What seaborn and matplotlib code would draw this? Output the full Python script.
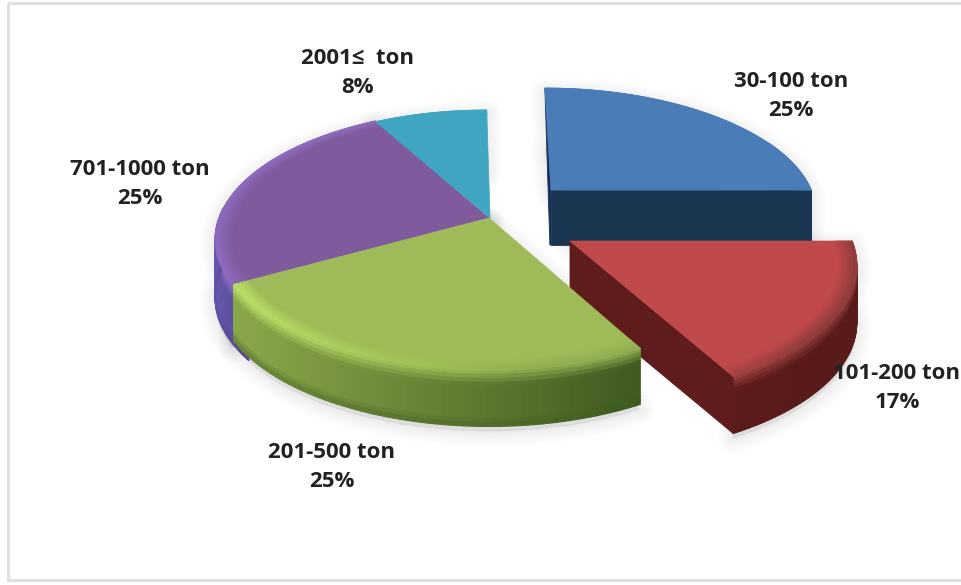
import numpy as np
import matplotlib
matplotlib.use("Agg")
import matplotlib.pyplot as plt
from matplotlib.collections import PolyCollection
from matplotlib.colors import to_rgb
from matplotlib.patches import Rectangle
import seaborn as sns

# Tonnage classes and their shares (percent)
categories = ["30-100 ton", "101-200 ton", "201-500 ton", "701-1000 ton", "2001≤  ton"]
shares = [25, 17, 25, 25, 8]

# Face colours of each slice
top_colors = ["#4a7db8", "#c04a4b", "#9fba58", "#7f5b9e", "#3fa5c0"]
wall_left = ["#1b3450", "#5c1b1c", "#8aa849", "#6557ad", "#2c7488"]
wall_right = ["#1b3450", "#581a1b", "#3f5a20", "#54478f", "#2c7488"]
rim_left = ["#4a7db8", "#a04242", "#bce468", "#8f6cc0", "#3fa5c0"]
rim_right = ["#4a7db8", "#8c3a3a", "#8fae50", "#8f6cc0", "#3fa5c0"]
cut_colors = ["#1a3550", "#5e1c1d", "#3f5a20", "#54478f", "#2c7488"]

# Pixel layout of each exploded slice: apex, radii, extrusion, lean of the back edge
apex_x = [551, 570, 489, 489, 490]
apex_y = [190, 241, 218, 218, 218]
radius_x = [260, 282, 268, 270, 265]
radius_y = [119, 132, 127, 127, 126]
depth = [55, 57, 56, 58, 58]
lean = [0.06, 0.03, 0.0, 0.0, 0.03]
PERSPECTIVE = 1 / 6

sns.set_theme(style="white")
plt.rcParams["font.family"] = ["Open Sans", "DejaVu Sans"]

fig = plt.figure(figsize=(9.62, 5.85), dpi=100, facecolor="white")
ax = fig.add_axes([0, 0, 1, 1])
ax.set_xlim(0, 962)
ax.set_ylim(585, 0)
ax.axis("off")

ax.add_patch(Rectangle((8, 3), 980, 577, fill=False, ec="#e0e0e0", lw=2.2, zorder=0))


def project(i, theta, r=1.0):
    """Map a polar position on the slice's disc to figure pixels."""
    u, v = r * np.cos(theta), r * np.sin(theta)
    w = 1 + PERSPECTIVE * v
    y_off = radius_y[i] * v / w
    x = apex_x[i] + radius_x[i] * u / w - lean[i] * y_off
    return x, apex_y[i] - y_off


# Angular span of every slice, clockwise from twelve o'clock
edges = np.radians(90 - np.cumsum([0] + shares) * 3.6)
span = {i: (edges[i], edges[i + 1]) for i in range(len(shares))}


def arc(i, n=80, r=1.0, start=None, stop=None):
    a = span[i][0] if start is None else start
    b = span[i][1] if stop is None else stop
    t = np.linspace(a, b, n)
    return np.column_stack(project(i, t, r))


def mix(a, b, f):
    a, b = np.array(to_rgb(a)), np.array(to_rgb(b))
    return tuple(a + (b - a) * f)


def top_polygon(i):
    return np.vstack([[apex_x[i], apex_y[i]], arc(i)])


def soft_shadow(i):
    pts = np.vstack([top_polygon(i), arc(i)[::-1] + [0, depth[i]]])
    for w in np.linspace(22, 2, 9):
        ax.fill(pts[:, 0], pts[:, 1] + 5, fc="#000000", ec="#000000", lw=w,
                alpha=0.006, joinstyle="round", zorder=1)


def cut_face(i, theta, z):
    x, y = project(i, theta)
    pts = [(apex_x[i], apex_y[i]), (x, y), (x, y + depth[i]),
           (apex_x[i], apex_y[i] + depth[i])]
    ax.fill(*zip(*pts), fc=cut_colors[i], ec=cut_colors[i], lw=0.6, zorder=z)


def curved_wall(i, z, start=None, stop=None, n=70, bands=14):
    """Outer wall as small quads shaded left to right and top to bottom."""
    pts = arc(i, n + 1, start=start, stop=stop)
    x0, x1 = pts[:, 0].min(), pts[:, 0].max()
    quads, colors = [], []
    for a, b in zip(pts[:-1], pts[1:]):
        f = ((a[0] + b[0]) / 2 - x0) / (x1 - x0)
        base = mix(wall_left[i], wall_right[i], f)
        rim = mix(rim_left[i], rim_right[i], min(1, f * 1.4))
        for s in range(bands):
            s0, s1 = s / bands, (s + 1) / bands
            g = min(1, (s0 + s1) / 2 / 0.26)
            c = mix(rim, base, g)
            # darkened lower lip of the wall
            c = mix(c, wall_right[i], max(0, (s0 - 0.8) / 0.2) * 0.6)
            d = depth[i]
            quads.append([a + [0, s0 * d], b + [0, s0 * d], b + [0, s1 * d], a + [0, s1 * d]])
            colors.append(c)
    ax.add_collection(PolyCollection(quads, facecolors=colors, edgecolors=colors,
                                     linewidths=0.9, zorder=z))


def top_face(i, z):
    pts = top_polygon(i)
    ax.fill(pts[:, 0], pts[:, 1], fc=top_colors[i], ec=top_colors[i], lw=0.5, zorder=z)
    # Bevel along the outer edge of the disc
    inner = arc(i, 71, 0.94)
    outer = arc(i, 71, 1.0)
    x0, x1 = outer[:, 0].min(), outer[:, 0].max()
    quads, colors = [], []
    for k in range(70):
        f = ((outer[k, 0] + outer[k + 1, 0]) / 2 - x0) / (x1 - x0)
        rim = mix(rim_left[i], rim_right[i], min(1, f * 1.4))
        for s in range(5):
            r0, r1 = s / 5, (s + 1) / 5
            quads.append([inner[k] + (outer[k] - inner[k]) * r0,
                          inner[k + 1] + (outer[k + 1] - inner[k + 1]) * r0,
                          inner[k + 1] + (outer[k + 1] - inner[k + 1]) * r1,
                          inner[k] + (outer[k] - inner[k]) * r1])
            colors.append(mix(top_colors[i], rim, (r0 + r1) / 2))
    ax.add_collection(PolyCollection(quads, facecolors=colors, edgecolors=colors,
                                     linewidths=0.5, zorder=z + 0.1))


BLUE, RED, GREEN, PURPLE, TEAL = range(5)

for i in range(5):
    soft_shadow(i)

# Painter's order: far slices first, the near green slice last.
# The purple wall starts a little under the green slice so no gap opens between them.
curved_wall(PURPLE, 2, start=span[PURPLE][0] + np.radians(8), stop=np.radians(-185))
top_face(PURPLE, 3)
top_face(TEAL, 3.5)

# Blue slice: front cut face plus a thin sliver of its leaning left cut face
curved_wall(BLUE, 4, start=np.radians(25))
cut_face(BLUE, span[BLUE][1], 4.2)
bx, by = project(BLUE, span[BLUE][0])
ax.fill([bx, bx + 5, apex_x[BLUE], apex_x[BLUE]],
        [by, apex_y[BLUE] + depth[BLUE], apex_y[BLUE] + depth[BLUE], apex_y[BLUE]],
        fc="#16305a", ec="#16305a", lw=0.6, zorder=4.3)
top_face(BLUE, 4.5)

curved_wall(RED, 5)
cut_face(RED, span[RED][1], 5.2)
top_face(RED, 5.5)

curved_wall(GREEN, 6)
top_face(GREEN, 6.5)

# Category and share labels
label_x = [791, 897, 332, 140, 358]
label_y = [96, 388, 467, 184, 73]
for name, share, x, y in zip(categories, shares, label_x, label_y):
    ax.text(x, y, f"{name}\n{share}%", ha="center", va="center", fontsize=16,
            fontweight="bold", color="#222222", linespacing=1.44, zorder=10)

fig.savefig("out.png", dpi=100, facecolor="white")
